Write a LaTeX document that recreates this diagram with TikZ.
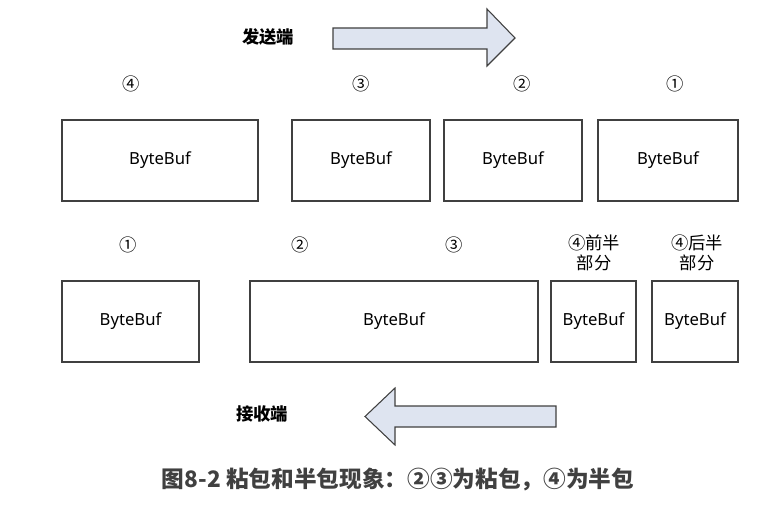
\documentclass[tikz,border=0pt]{standalone}
\usepackage{fontspec}
\setmainfont{Noto Sans}
\newfontfamily\cjk{Noto Sans CJK SC}
\usetikzlibrary{positioning}
\definecolor{arrowfill}{HTML}{DEE4F0}
\definecolor{linegray}{HTML}{404040}
\tikzset{
  x = 0.75pt,
  y = -0.75pt,
  buf/.style = {draw = linegray, line width = 1pt, minimum height = 60.75pt,
    inner sep = 0pt, font = \fontsize{12.5}{15}\selectfont},
  num/.style = {font = \cjk\fontsize{13}{15}\selectfont, align = center},
  side/.style = {font = \cjk\bfseries\fontsize{13}{15}\selectfont},
  flow/.style = {draw = linegray, fill = arrowfill, line width = 0.8pt, line join = miter},
}

\begin{document}
\begin{tikzpicture}
    \useasboundingbox (0,0) rectangle (776,510);
    % sender side
    \node [side] (send) at (268,37) {发送端};
    \draw [flow] (333,28) -- (487,28) -- (487,9) -- (515,38) -- (487,66) -- (487,49) -- (333,49) -- cycle;
    \node [num] (t4) at (131,84) {④};
    \node [num] (t3) at (361,84) {③};
    \node [num] (t2) at (522,84) {②};
    \node [num] (t1) at (675,84) {①};
    \node [buf, minimum width = 147pt] (s4) at (160,160.5) {ByteBuf};
    \node [buf, minimum width = 103.5pt] (s3) at (361,160.5) {ByteBuf};
    \node [buf, minimum width = 103.5pt] (s2) at (513,160.5) {ByteBuf};
    \node [buf, minimum width = 105pt] (s1) at (668,160.5) {ByteBuf};
    % receiver side
    \node [num] (b1) at (128,245) {①};
    \node [num] (b2) at (300,245) {②};
    \node [num] (b3) at (454,245) {③};
    \node [num] (b4a) at (594,253) {④前半\\部分};
    \node [num] (b4b) at (697,253) {④后半\\部分};
    \node [buf, minimum width = 102.75pt] (r1) at (130.5,321.5) {ByteBuf};
    \node [buf, minimum width = 216pt] (r23) at (394,321.5) {ByteBuf};
    \node [buf, minimum width = 63.75pt] (r4a) at (593.5,321.5) {ByteBuf};
    \node [buf, minimum width = 64.5pt] (r4b) at (695,321.5) {ByteBuf};
    \draw [flow] (556,406) -- (395,406) -- (395,388) -- (365,416.5) -- (395,445) -- (395,427) -- (556,427) -- cycle;
    \node [side] (recv) at (262,414) {接收端};
    % caption
    \node [font = \cjk\bfseries\fontsize{17}{20}\selectfont, text = linegray] (cap) at (398,480)
      {图8-2 粘包和半包现象：②③为粘包，④为半包};
\end{tikzpicture}
\end{document}
